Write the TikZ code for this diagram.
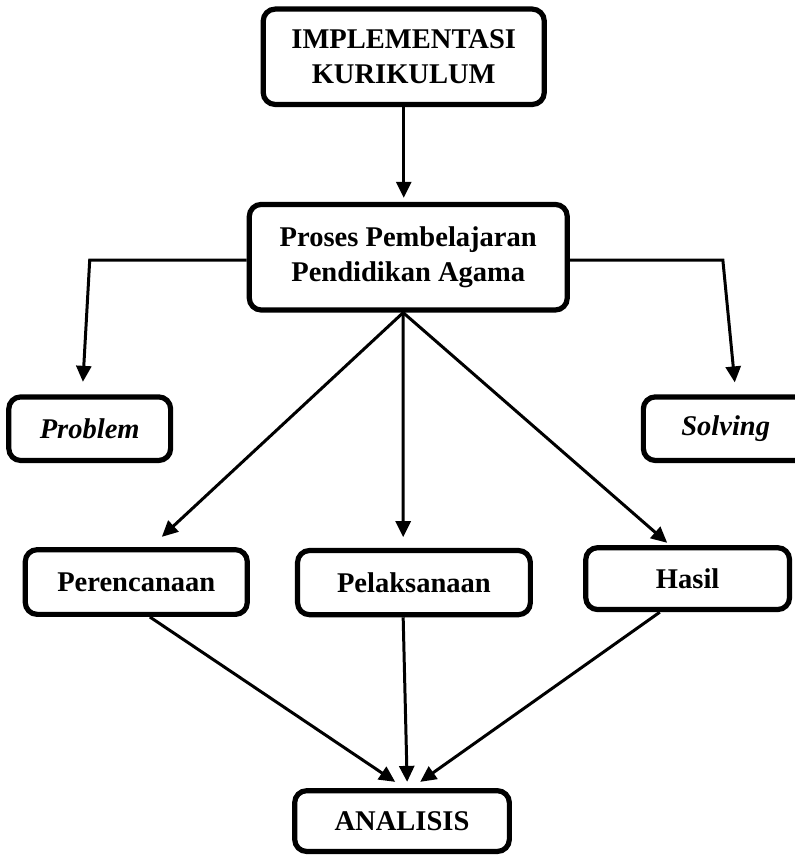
\documentclass[tikz,border=0pt]{standalone}
\usepackage{fontspec}
\setmainfont{Liberation Serif}
\usetikzlibrary{calc, arrows.meta, positioning}

\begin{document}
\begin{tikzpicture}[
    >={Triangle[length=8pt, width=7.5pt]},
    line width=1.5pt,
    font=\fontsize{14.3}{17.5}\selectfont\bfseries,
    box_style/.style={draw=black, fill=white, rounded corners=6pt, line width=2.6pt, align=center, inner sep=0pt, minimum width=#1},
    italic_style/.style={box_style=#1, minimum height=1.12cm, font=\fontsize{14.3}{17.5}\selectfont\bfseries\itshape}
]
    \useasboundingbox (0, 0) rectangle (14.0, -15.075);

    % --- Top ---
    \node[box_style=4.95cm, minimum height=1.68cm] (impl) at (7.11, -1.00) {IMPLEMENTASI\\KURIKULUM};
    \node[box_style=5.60cm, minimum height=1.86cm] (proses) at (7.19, -4.53) {Proses Pembelajaran\\Pendidikan Agama};

    % --- Problem / Solving (Solving runs off the page) ---
    \node[italic_style=2.85cm] (problem) at (1.58, -7.55) {Problem};
    \node[italic_style=3.30cm] (solving) at (12.98, -7.55) {\hspace*{-0.40cm}Solving};

    % --- Middle row ---
    \node[box_style=3.91cm, minimum height=1.14cm] (rencana) at (2.40, -10.25) {Perencanaan};
    \node[box_style=4.10cm, minimum height=1.13cm] (laksana) at (7.29, -10.26) {Pelaksanaan};
    \node[box_style=3.59cm, minimum height=1.09cm] (hasil) at (12.11, -10.19) {Hasil};

    % --- Bottom ---
    \node[box_style=3.78cm, minimum height=1.07cm] (analisis) at (7.08, -14.46) {ANALISIS};

    % corner points of the side lines
    \coordinate (kiri) at (1.58, -4.58);
    \coordinate (kanan) at (12.73, -4.58);

    % Flow from top
    \draw[->, shorten >=2pt] (impl.south) -- (impl.south |- proses.north);

    % Side branches
    \draw[->] (kiri -| proses.west) -- (kiri) -- ($(problem.north)+(-0.12, 0.22)$);
    \draw[->] (kanan -| proses.east) -- (kanan) -- ($(solving.north)+(-0.04, 0.21)$);

    % Branches to the middle row
    \draw[->] ($(proses.south)+(-0.09, 0)$) -- ($(rencana.north)+(0.45, 0.18)$);
    \draw[->] ($(proses.south)+(-0.09, 0)$) -- ($(laksana.north)+(-0.19, 0.19)$);
    \draw[->] ($(proses.south)+(-0.09, 0)$) -- ($(hasil.north)+(-0.36, 0.04)$);

    % Middle row to Analisis
    \draw[->] ($(rencana.south)+(0.24, 0)$) -- ($(analisis.north)+(-0.12, 0.11)$);
    \draw[->] ($(laksana.south)+(-0.19, 0)$) -- ($(analisis.north)+(0.09, 0.11)$);
    \draw[->] ($(hasil.south)+(-0.49, 0)$) -- ($(analisis.north)+(0.32, 0.11)$);

\end{tikzpicture}
\end{document}
